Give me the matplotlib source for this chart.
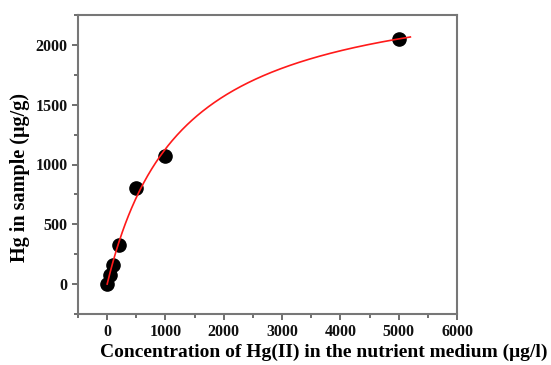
import numpy as np
import matplotlib
matplotlib.use("Agg")
import matplotlib.pyplot as plt
from matplotlib.ticker import MultipleLocator

# measured points
conc = [0, 50, 100, 200, 500, 1000, 5000]
hg = [0, 75, 160, 325, 800, 1070, 2050]

# Langmuir-type fit y = qmax * x / (k + x)
qmax = 2574
k_half = 1278
fit_end = 5200

plt.rcParams["font.family"] = ["Liberation Serif", "DejaVu Serif"]
plt.rcParams["font.weight"] = "bold"

fig = plt.figure(figsize=(5.51, 3.65), dpi=100)
ax = fig.add_axes([78 / 551, 1 - 314 / 365, (457 - 78) / 551, (314 - 15) / 365])

xf = np.linspace(0, fit_end, 300)
ax.plot(xf, qmax * xf / (k_half + xf), color="#ff1a1a", linewidth=1.2, zorder=3)
ax.plot(conc, hg, "o", color="black", markersize=9.5, zorder=2)

ax.set_xlim(-500, 6000)
ax.set_ylim(-250, 2250)
ax.xaxis.set_major_locator(MultipleLocator(1000))
ax.xaxis.set_minor_locator(MultipleLocator(500))
ax.yaxis.set_major_locator(MultipleLocator(500))
ax.yaxis.set_minor_locator(MultipleLocator(250))
ax.tick_params(which="both", direction="out", colors="#555555", labelcolor="#111111",
               labelsize=11.5, width=1.2)
ax.tick_params(which="major", length=4)
ax.tick_params(which="minor", length=3)
for s in ax.spines.values():
    s.set_color("#777777")
    s.set_linewidth(1.5)

fig.text(100 / 551, 1 - 357 / 365,
         "Concentration of Hg(II) in the nutrient medium (\u03bcg/l)",
         fontsize=14, fontweight="bold", ha="left", va="baseline")
fig.text(20 / 551, 1 - 178 / 365, "Hg in sample (\u03bcg/g)",
         fontsize=14.5, fontweight="bold", rotation=90, ha="center", va="center")

fig.savefig("out.png", dpi=100)
